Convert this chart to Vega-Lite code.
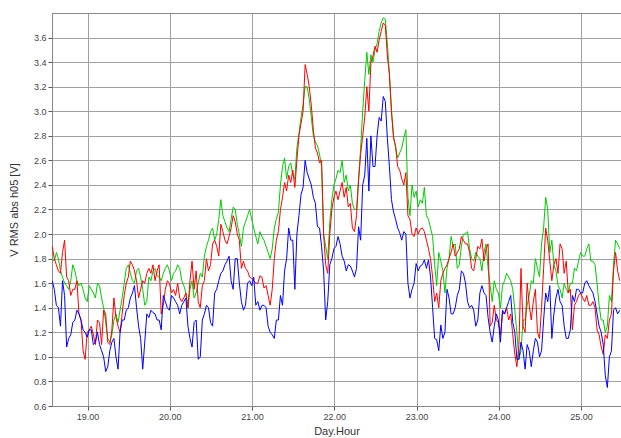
{
  "$schema": "https://vega.github.io/schema/vega-lite/v6.json",
  "width": 569,
  "height": 393,
  "autosize": {"type": "none"},
  "padding": {"left": 52, "top": 13, "right": 0, "bottom": 32},
  "background": "white",
  "config": {
    "view": {"stroke": "#888888", "strokeWidth": 1},
    "font": "Liberation Sans"
  },
  "data": {"values": [
    {"h":18.57,"L1":1.80,"L2":1.90,"L3":1.62},
    {"h":18.595,"L1":1.78,"L2":1.80,"L3":1.55},
    {"h":18.62,"L1":1.85,"L2":1.75,"L3":1.42},
    {"h":18.645,"L1":1.80,"L2":1.70,"L3":1.40},
    {"h":18.67,"L1":1.70,"L2":1.68,"L3":1.25},
    {"h":18.695,"L1":1.65,"L2":1.85,"L3":1.62},
    {"h":18.72,"L1":1.60,"L2":1.95,"L3":1.50},
    {"h":18.745,"L1":1.58,"L2":1.65,"L3":1.08},
    {"h":18.77,"L1":1.55,"L2":1.62,"L3":1.15},
    {"h":18.795,"L1":1.62,"L2":1.50,"L3":1.18},
    {"h":18.82,"L1":1.75,"L2":1.55,"L3":1.28},
    {"h":18.845,"L1":1.70,"L2":1.55,"L3":1.30},
    {"h":18.87,"L1":1.62,"L2":1.62,"L3":1.38},
    {"h":18.895,"L1":1.58,"L2":1.35,"L3":1.35},
    {"h":18.92,"L1":1.60,"L2":1.30,"L3":1.30},
    {"h":18.945,"L1":1.55,"L2":1.05,"L3":1.22},
    {"h":18.97,"L1":1.48,"L2":0.98,"L3":1.20},
    {"h":18.995,"L1":1.45,"L2":1.20,"L3":1.16},
    {"h":19.02,"L1":1.58,"L2":1.22,"L3":1.22},
    {"h":19.045,"L1":1.55,"L2":1.25,"L3":1.22},
    {"h":19.07,"L1":1.52,"L2":1.18,"L3":1.10},
    {"h":19.095,"L1":1.48,"L2":1.10,"L3":1.12},
    {"h":19.12,"L1":1.60,"L2":1.30,"L3":1.20},
    {"h":19.145,"L1":1.58,"L2":1.28,"L3":1.10},
    {"h":19.17,"L1":1.48,"L2":1.10,"L3":1.05},
    {"h":19.195,"L1":1.40,"L2":1.38,"L3":1.00},
    {"h":19.22,"L1":1.28,"L2":1.35,"L3":0.88},
    {"h":19.245,"L1":1.15,"L2":1.12,"L3":0.92},
    {"h":19.27,"L1":1.12,"L2":1.10,"L3":1.05},
    {"h":19.295,"L1":1.18,"L2":1.22,"L3":1.12},
    {"h":19.32,"L1":1.30,"L2":1.48,"L3":1.15},
    {"h":19.345,"L1":1.35,"L2":1.32,"L3":1.00},
    {"h":19.37,"L1":1.28,"L2":1.25,"L3":0.90},
    {"h":19.395,"L1":1.38,"L2":1.20,"L3":1.20},
    {"h":19.42,"L1":1.48,"L2":1.35,"L3":1.30},
    {"h":19.445,"L1":1.60,"L2":1.50,"L3":1.30},
    {"h":19.47,"L1":1.72,"L2":1.60,"L3":1.38},
    {"h":19.495,"L1":1.75,"L2":1.65,"L3":1.40},
    {"h":19.52,"L1":1.68,"L2":1.78,"L3":1.48},
    {"h":19.545,"L1":1.62,"L2":1.75,"L3":1.52},
    {"h":19.57,"L1":1.60,"L2":1.70,"L3":1.58},
    {"h":19.595,"L1":1.70,"L2":1.62,"L3":1.40},
    {"h":19.62,"L1":1.72,"L2":1.48,"L3":1.25},
    {"h":19.645,"L1":1.65,"L2":1.55,"L3":1.15},
    {"h":19.67,"L1":1.55,"L2":1.62,"L3":0.90},
    {"h":19.695,"L1":1.42,"L2":1.60,"L3":1.12},
    {"h":19.72,"L1":1.45,"L2":1.68,"L3":1.35},
    {"h":19.745,"L1":1.65,"L2":1.72,"L3":1.32},
    {"h":19.77,"L1":1.62,"L2":1.68,"L3":1.38},
    {"h":19.795,"L1":1.70,"L2":1.75,"L3":1.36},
    {"h":19.82,"L1":1.72,"L2":1.62,"L3":1.35},
    {"h":19.845,"L1":1.66,"L2":1.70,"L3":1.30},
    {"h":19.87,"L1":1.65,"L2":1.75,"L3":1.30},
    {"h":19.895,"L1":1.62,"L2":1.35,"L3":1.22},
    {"h":19.92,"L1":1.68,"L2":1.42,"L3":1.50},
    {"h":19.945,"L1":1.72,"L2":1.55,"L3":1.45},
    {"h":19.97,"L1":1.75,"L2":1.62,"L3":1.40},
    {"h":19.995,"L1":1.70,"L2":1.60,"L3":1.38},
    {"h":20.02,"L1":1.62,"L2":1.52,"L3":1.50},
    {"h":20.045,"L1":1.68,"L2":1.55,"L3":1.48},
    {"h":20.07,"L1":1.70,"L2":1.50,"L3":1.45},
    {"h":20.095,"L1":1.75,"L2":1.60,"L3":1.42},
    {"h":20.12,"L1":1.72,"L2":1.48,"L3":1.35},
    {"h":20.145,"L1":1.62,"L2":1.45,"L3":1.42},
    {"h":20.17,"L1":1.58,"L2":1.48,"L3":1.45},
    {"h":20.195,"L1":1.52,"L2":1.52,"L3":1.48},
    {"h":20.22,"L1":1.40,"L2":1.40,"L3":1.25},
    {"h":20.245,"L1":1.55,"L2":1.62,"L3":1.15},
    {"h":20.27,"L1":1.62,"L2":1.78,"L3":1.08},
    {"h":20.295,"L1":1.48,"L2":1.55,"L3":1.28},
    {"h":20.32,"L1":1.52,"L2":1.70,"L3":1.30},
    {"h":20.345,"L1":1.60,"L2":1.45,"L3":0.98},
    {"h":20.37,"L1":1.68,"L2":1.40,"L3":1.00},
    {"h":20.395,"L1":1.65,"L2":1.58,"L3":1.30},
    {"h":20.42,"L1":1.82,"L2":1.62,"L3":1.35},
    {"h":20.445,"L1":1.90,"L2":1.80,"L3":1.42},
    {"h":20.47,"L1":1.95,"L2":1.70,"L3":1.40},
    {"h":20.495,"L1":2.02,"L2":1.75,"L3":1.28},
    {"h":20.52,"L1":2.05,"L2":1.92,"L3":1.25},
    {"h":20.545,"L1":1.95,"L2":1.95,"L3":1.52},
    {"h":20.57,"L1":2.00,"L2":1.90,"L3":1.55},
    {"h":20.595,"L1":2.12,"L2":1.82,"L3":1.62},
    {"h":20.62,"L1":2.28,"L2":2.08,"L3":1.68},
    {"h":20.645,"L1":2.15,"L2":2.02,"L3":1.70},
    {"h":20.67,"L1":2.10,"L2":1.95,"L3":1.75},
    {"h":20.695,"L1":2.05,"L2":1.92,"L3":1.78},
    {"h":20.72,"L1":2.02,"L2":1.98,"L3":1.82},
    {"h":20.745,"L1":2.12,"L2":2.05,"L3":1.62},
    {"h":20.77,"L1":2.22,"L2":2.15,"L3":1.55},
    {"h":20.795,"L1":2.20,"L2":2.10,"L3":1.80},
    {"h":20.82,"L1":2.08,"L2":2.00,"L3":1.80},
    {"h":20.845,"L1":2.00,"L2":1.95,"L3":1.60},
    {"h":20.87,"L1":1.90,"L2":1.72,"L3":1.45},
    {"h":20.895,"L1":2.05,"L2":1.78,"L3":1.38},
    {"h":20.92,"L1":2.10,"L2":1.72,"L3":1.42},
    {"h":20.945,"L1":2.15,"L2":1.70,"L3":1.60},
    {"h":20.97,"L1":2.20,"L2":1.65,"L3":1.62},
    {"h":20.995,"L1":2.12,"L2":1.64,"L3":1.58},
    {"h":21.02,"L1":2.05,"L2":1.62,"L3":1.65},
    {"h":21.045,"L1":1.98,"L2":1.60,"L3":1.42},
    {"h":21.07,"L1":1.92,"L2":1.60,"L3":1.45},
    {"h":21.095,"L1":2.02,"L2":1.66,"L3":1.38},
    {"h":21.12,"L1":1.98,"L2":1.65,"L3":1.42},
    {"h":21.145,"L1":1.95,"L2":1.56,"L3":1.42},
    {"h":21.17,"L1":1.90,"L2":1.58,"L3":1.40},
    {"h":21.195,"L1":1.85,"L2":1.50,"L3":1.25},
    {"h":21.22,"L1":1.80,"L2":1.42,"L3":1.20},
    {"h":21.245,"L1":1.88,"L2":1.55,"L3":1.18},
    {"h":21.27,"L1":2.05,"L2":1.80,"L3":1.15},
    {"h":21.295,"L1":2.12,"L2":1.95,"L3":1.30},
    {"h":21.32,"L1":2.18,"L2":2.02,"L3":1.30},
    {"h":21.345,"L1":2.40,"L2":2.20,"L3":1.50},
    {"h":21.37,"L1":2.55,"L2":2.30,"L3":1.42},
    {"h":21.395,"L1":2.62,"L2":2.42,"L3":1.70},
    {"h":21.42,"L1":2.45,"L2":2.35,"L3":1.80},
    {"h":21.445,"L1":2.55,"L2":2.48,"L3":2.05},
    {"h":21.47,"L1":2.58,"L2":2.42,"L3":1.95},
    {"h":21.495,"L1":2.48,"L2":2.52,"L3":1.95},
    {"h":21.52,"L1":2.45,"L2":2.38,"L3":1.55},
    {"h":21.545,"L1":2.70,"L2":2.60,"L3":2.00},
    {"h":21.57,"L1":2.82,"L2":2.80,"L3":2.15},
    {"h":21.595,"L1":2.95,"L2":2.90,"L3":2.32},
    {"h":21.62,"L1":3.05,"L2":3.00,"L3":2.38},
    {"h":21.645,"L1":3.20,"L2":3.38,"L3":2.60},
    {"h":21.67,"L1":3.20,"L2":3.30,"L3":2.50},
    {"h":21.695,"L1":3.10,"L2":3.20,"L3":2.45},
    {"h":21.72,"L1":2.95,"L2":3.05,"L3":2.40},
    {"h":21.745,"L1":2.80,"L2":2.85,"L3":2.30},
    {"h":21.77,"L1":2.75,"L2":2.70,"L3":2.25},
    {"h":21.795,"L1":2.72,"L2":2.66,"L3":2.06},
    {"h":21.82,"L1":2.65,"L2":2.58,"L3":2.05},
    {"h":21.845,"L1":2.55,"L2":2.60,"L3":1.90},
    {"h":21.87,"L1":2.00,"L2":2.00,"L3":1.70},
    {"h":21.895,"L1":1.90,"L2":1.75,"L3":1.30},
    {"h":21.92,"L1":1.80,"L2":1.68,"L3":1.45},
    {"h":21.945,"L1":2.10,"L2":2.00,"L3":1.75},
    {"h":21.97,"L1":2.28,"L2":2.20,"L3":1.80},
    {"h":21.995,"L1":2.40,"L2":2.30,"L3":1.88},
    {"h":22.02,"L1":2.45,"L2":2.35,"L3":1.90},
    {"h":22.045,"L1":2.52,"L2":2.28,"L3":1.98},
    {"h":22.07,"L1":2.50,"L2":2.35,"L3":1.92},
    {"h":22.095,"L1":2.60,"L2":2.42,"L3":1.82},
    {"h":22.12,"L1":2.42,"L2":2.30,"L3":1.78},
    {"h":22.145,"L1":2.48,"L2":2.38,"L3":1.70},
    {"h":22.17,"L1":2.35,"L2":2.22,"L3":1.75},
    {"h":22.195,"L1":2.40,"L2":2.25,"L3":1.74},
    {"h":22.22,"L1":2.25,"L2":2.05,"L3":1.70},
    {"h":22.245,"L1":2.20,"L2":2.02,"L3":1.65},
    {"h":22.27,"L1":2.20,"L2":2.15,"L3":1.72},
    {"h":22.295,"L1":2.45,"L2":2.44,"L3":2.06},
    {"h":22.32,"L1":2.70,"L2":2.65,"L3":1.95},
    {"h":22.345,"L1":3.00,"L2":2.80,"L3":2.40},
    {"h":22.37,"L1":3.25,"L2":2.95,"L3":2.48},
    {"h":22.395,"L1":3.48,"L2":3.20,"L3":2.78},
    {"h":22.42,"L1":3.30,"L2":3.00,"L3":2.35},
    {"h":22.445,"L1":3.46,"L2":3.40,"L3":2.80},
    {"h":22.47,"L1":3.40,"L2":3.45,"L3":2.55},
    {"h":22.495,"L1":3.50,"L2":3.53,"L3":2.55},
    {"h":22.52,"L1":3.55,"L2":3.48,"L3":2.80},
    {"h":22.545,"L1":3.65,"L2":3.58,"L3":2.95},
    {"h":22.57,"L1":3.72,"L2":3.65,"L3":2.92},
    {"h":22.595,"L1":3.76,"L2":3.72,"L3":3.12},
    {"h":22.62,"L1":3.75,"L2":3.70,"L3":3.08},
    {"h":22.645,"L1":3.55,"L2":3.45,"L3":2.78},
    {"h":22.67,"L1":3.30,"L2":3.30,"L3":2.55},
    {"h":22.695,"L1":3.00,"L2":3.00,"L3":2.28},
    {"h":22.72,"L1":2.80,"L2":2.78,"L3":2.18},
    {"h":22.745,"L1":2.70,"L2":2.72,"L3":2.12},
    {"h":22.77,"L1":2.62,"L2":2.55,"L3":2.05},
    {"h":22.795,"L1":2.66,"L2":2.52,"L3":2.01},
    {"h":22.82,"L1":2.70,"L2":2.45,"L3":1.95},
    {"h":22.845,"L1":2.78,"L2":2.40,"L3":2.02},
    {"h":22.87,"L1":2.85,"L2":2.50,"L3":2.00},
    {"h":22.895,"L1":2.30,"L2":2.15,"L3":1.60},
    {"h":22.92,"L1":2.15,"L2":2.12,"L3":1.48},
    {"h":22.945,"L1":2.40,"L2":2.00,"L3":1.55},
    {"h":22.97,"L1":2.30,"L2":1.98,"L3":1.60},
    {"h":22.995,"L1":2.35,"L2":2.05,"L3":1.76},
    {"h":23.02,"L1":2.22,"L2":2.00,"L3":1.70},
    {"h":23.045,"L1":2.28,"L2":2.04,"L3":1.74},
    {"h":23.07,"L1":2.25,"L2":2.05,"L3":1.75},
    {"h":23.095,"L1":2.38,"L2":2.02,"L3":1.79},
    {"h":23.12,"L1":2.15,"L2":1.95,"L3":1.72},
    {"h":23.145,"L1":2.12,"L2":1.88,"L3":1.79},
    {"h":23.17,"L1":2.05,"L2":1.80,"L3":1.65},
    {"h":23.195,"L1":1.98,"L2":1.65,"L3":1.40},
    {"h":23.22,"L1":1.75,"L2":1.45,"L3":1.15},
    {"h":23.245,"L1":1.58,"L2":1.52,"L3":1.14},
    {"h":23.27,"L1":1.85,"L2":1.40,"L3":1.05},
    {"h":23.295,"L1":1.78,"L2":1.62,"L3":1.26},
    {"h":23.32,"L1":1.70,"L2":1.68,"L3":1.15},
    {"h":23.345,"L1":1.52,"L2":1.72,"L3":1.20},
    {"h":23.37,"L1":1.72,"L2":1.75,"L3":1.55},
    {"h":23.395,"L1":1.80,"L2":1.80,"L3":1.48},
    {"h":23.42,"L1":1.98,"L2":1.85,"L3":1.35},
    {"h":23.445,"L1":1.90,"L2":1.92,"L3":1.35},
    {"h":23.47,"L1":1.92,"L2":1.82,"L3":1.40},
    {"h":23.495,"L1":1.72,"L2":1.85,"L3":1.50},
    {"h":23.52,"L1":1.75,"L2":1.88,"L3":1.55},
    {"h":23.545,"L1":1.90,"L2":1.98,"L3":1.70},
    {"h":23.57,"L1":2.00,"L2":1.95,"L3":1.68},
    {"h":23.595,"L1":2.00,"L2":1.92,"L3":1.60},
    {"h":23.62,"L1":2.02,"L2":1.92,"L3":1.45},
    {"h":23.645,"L1":1.88,"L2":1.85,"L3":1.40},
    {"h":23.67,"L1":1.80,"L2":1.72,"L3":1.42},
    {"h":23.695,"L1":1.78,"L2":1.70,"L3":1.38},
    {"h":23.72,"L1":1.85,"L2":1.80,"L3":1.25},
    {"h":23.745,"L1":1.82,"L2":1.90,"L3":1.30},
    {"h":23.77,"L1":1.80,"L2":1.88,"L3":1.52},
    {"h":23.795,"L1":1.70,"L2":1.96,"L3":1.58},
    {"h":23.82,"L1":1.85,"L2":1.78,"L3":1.52},
    {"h":23.845,"L1":1.92,"L2":1.88,"L3":1.50},
    {"h":23.87,"L1":1.72,"L2":1.92,"L3":1.32},
    {"h":23.895,"L1":1.58,"L2":1.25,"L3":1.20},
    {"h":23.92,"L1":1.45,"L2":1.28,"L3":1.12},
    {"h":23.945,"L1":1.62,"L2":1.42,"L3":1.25},
    {"h":23.97,"L1":1.55,"L2":1.30,"L3":1.35},
    {"h":23.995,"L1":1.52,"L2":1.28,"L3":1.30},
    {"h":24.02,"L1":1.40,"L2":1.18,"L3":1.12},
    {"h":24.045,"L1":1.58,"L2":1.36,"L3":1.38},
    {"h":24.07,"L1":1.62,"L2":1.35,"L3":1.35},
    {"h":24.095,"L1":1.68,"L2":1.40,"L3":1.40},
    {"h":24.12,"L1":1.65,"L2":1.30,"L3":1.45},
    {"h":24.145,"L1":1.62,"L2":1.35,"L3":1.50},
    {"h":24.17,"L1":1.55,"L2":1.18,"L3":1.28},
    {"h":24.195,"L1":1.38,"L2":1.02,"L3":1.20},
    {"h":24.22,"L1":1.20,"L2":0.92,"L3":0.98},
    {"h":24.245,"L1":0.98,"L2":1.10,"L3":0.98},
    {"h":24.27,"L1":1.05,"L2":1.72,"L3":1.12},
    {"h":24.295,"L1":1.30,"L2":1.25,"L3":1.05},
    {"h":24.32,"L1":1.30,"L2":1.20,"L3":0.90},
    {"h":24.345,"L1":1.42,"L2":1.60,"L3":1.10},
    {"h":24.37,"L1":1.50,"L2":1.42,"L3":1.05},
    {"h":24.395,"L1":1.62,"L2":1.30,"L3":0.92},
    {"h":24.42,"L1":1.60,"L2":1.45,"L3":1.05},
    {"h":24.445,"L1":1.80,"L2":1.55,"L3":1.15},
    {"h":24.47,"L1":1.72,"L2":1.20,"L3":1.12},
    {"h":24.495,"L1":1.65,"L2":1.15,"L3":1.00},
    {"h":24.52,"L1":1.92,"L2":1.40,"L3":1.05},
    {"h":24.545,"L1":2.05,"L2":1.72,"L3":1.30},
    {"h":24.57,"L1":2.30,"L2":2.05,"L3":1.52},
    {"h":24.595,"L1":2.20,"L2":1.95,"L3":1.45},
    {"h":24.62,"L1":1.85,"L2":1.78,"L3":1.58},
    {"h":24.645,"L1":1.95,"L2":1.62,"L3":1.15},
    {"h":24.67,"L1":1.75,"L2":1.75,"L3":1.35},
    {"h":24.695,"L1":1.70,"L2":1.80,"L3":1.48},
    {"h":24.72,"L1":1.58,"L2":1.68,"L3":1.55},
    {"h":24.745,"L1":1.55,"L2":1.92,"L3":1.45},
    {"h":24.77,"L1":1.48,"L2":1.88,"L3":1.42},
    {"h":24.795,"L1":1.60,"L2":1.68,"L3":1.25},
    {"h":24.82,"L1":1.55,"L2":1.78,"L3":1.15},
    {"h":24.845,"L1":1.52,"L2":1.52,"L3":1.15},
    {"h":24.87,"L1":1.60,"L2":1.55,"L3":1.22},
    {"h":24.895,"L1":1.60,"L2":1.22,"L3":1.50},
    {"h":24.92,"L1":1.72,"L2":1.42,"L3":1.45},
    {"h":24.945,"L1":1.70,"L2":1.45,"L3":1.55},
    {"h":24.97,"L1":1.78,"L2":1.50,"L3":1.55},
    {"h":24.995,"L1":1.85,"L2":1.52,"L3":1.52},
    {"h":25.02,"L1":1.82,"L2":1.48,"L3":1.52},
    {"h":25.045,"L1":1.82,"L2":1.45,"L3":1.60},
    {"h":25.07,"L1":1.88,"L2":1.50,"L3":1.62},
    {"h":25.095,"L1":1.92,"L2":1.42,"L3":1.58},
    {"h":25.12,"L1":1.78,"L2":1.42,"L3":1.55},
    {"h":25.145,"L1":1.78,"L2":1.45,"L3":1.52},
    {"h":25.17,"L1":1.75,"L2":1.40,"L3":1.45},
    {"h":25.195,"L1":1.60,"L2":1.22,"L3":1.35},
    {"h":25.22,"L1":1.42,"L2":1.18,"L3":1.25},
    {"h":25.245,"L1":1.30,"L2":1.08,"L3":1.20},
    {"h":25.27,"L1":1.30,"L2":1.02,"L3":1.10},
    {"h":25.295,"L1":1.20,"L2":1.18,"L3":0.85},
    {"h":25.32,"L1":1.25,"L2":1.15,"L3":0.75},
    {"h":25.345,"L1":1.50,"L2":1.30,"L3":1.00},
    {"h":25.37,"L1":1.45,"L2":1.35,"L3":1.05},
    {"h":25.395,"L1":1.75,"L2":1.70,"L3":1.38},
    {"h":25.42,"L1":1.95,"L2":1.85,"L3":1.40},
    {"h":25.445,"L1":1.92,"L2":1.70,"L3":1.35},
    {"h":25.47,"L1":1.88,"L2":1.62,"L3":1.38}
  ]},
  "transform": [{"fold": ["L1", "L2", "L3"], "as": ["phase", "v"]}],
  "mark": {"type": "line", "strokeWidth": 1, "interpolate": "linear", "clip": true},
  "encoding": {
    "x": {
      "field": "h", "type": "quantitative",
      "scale": {"domain": [18.567, 25.486], "nice": false, "zero": false},
      "axis": {
        "title": "Day.Hour",
        "values": [19, 20, 21, 22, 23, 24, 25],
        "format": ".2f",
        "grid": true, "gridColor": "#a0a0a0", "gridWidth": 1,
        "domainColor": "#888888",
        "tickColor": "#555555", "tickSize": 4,
        "labelFontSize": 9, "labelColor": "#444444", "labelPadding": 2,
        "titleFontSize": 11, "titleFontWeight": "normal", "titleColor": "#333333", "titlePadding": 4
      }
    },
    "y": {
      "field": "v", "type": "quantitative",
      "scale": {"domain": [0.6, 3.8], "nice": false, "zero": false},
      "axis": {
        "title": "V RMS abs h05 [V]",
        "values": [0.6, 0.8, 1.0, 1.2, 1.4, 1.6, 1.8, 2.0, 2.2, 2.4, 2.6, 2.8, 3.0, 3.2, 3.4, 3.6],
        "format": ".1f",
        "grid": true, "gridColor": "#a0a0a0", "gridWidth": 1,
        "domainColor": "#888888",
        "tickColor": "#555555", "tickSize": 4,
        "labelFontSize": 9, "labelColor": "#444444", "labelPadding": 2,
        "titleFontSize": 11, "titleFontWeight": "normal", "titleColor": "#333333", "titlePadding": 14
      }
    },
    "color": {
      "field": "phase", "type": "nominal",
      "scale": {"domain": ["L1", "L2", "L3"], "range": ["#00cc00", "#ff0000", "#0000ff"]},
      "legend": null
    }
  }
}
